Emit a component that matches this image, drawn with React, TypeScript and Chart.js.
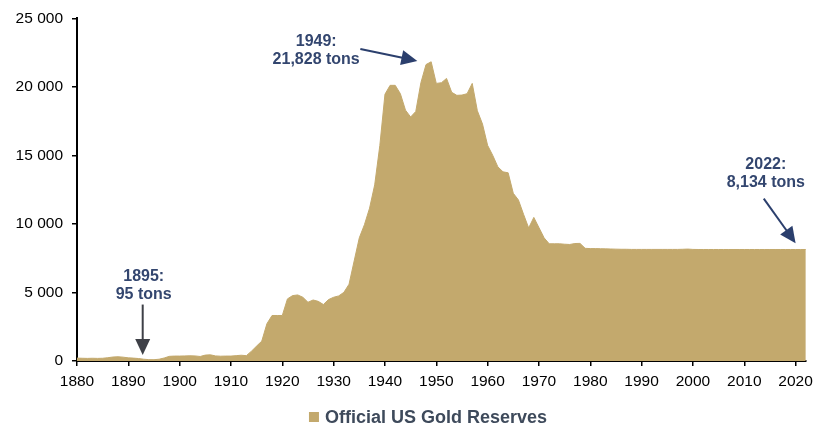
import React, { useEffect, useRef } from 'react';
import { Chart, registerables } from 'chart.js';

Chart.register(...registerables);

// Years 1880 .. 2022
const years: number[] = [
  1880, 1881, 1882, 1883, 1884, 1885, 1886, 1887, 1888, 1889,
  1890, 1891, 1892, 1893, 1894, 1895, 1896, 1897, 1898, 1899,
  1900, 1901, 1902, 1903, 1904, 1905, 1906, 1907, 1908, 1909,
  1910, 1911, 1912, 1913, 1914, 1915, 1916, 1917, 1918, 1919,
  1920, 1921, 1922, 1923, 1924, 1925, 1926, 1927, 1928, 1929,
  1930, 1931, 1932, 1933, 1934, 1935, 1936, 1937, 1938, 1939,
  1940, 1941, 1942, 1943, 1944, 1945, 1946, 1947, 1948, 1949,
  1950, 1951, 1952, 1953, 1954, 1955, 1956, 1957, 1958, 1959,
  1960, 1961, 1962, 1963, 1964, 1965, 1966, 1967, 1968, 1969,
  1970, 1971, 1972, 1973, 1974, 1975, 1976, 1977, 1978, 1979,
  1980, 1981, 1982, 1983, 1984, 1985, 1986, 1987, 1988, 1989,
  1990, 1991, 1992, 1993, 1994, 1995, 1996, 1997, 1998, 1999,
  2000, 2001, 2002, 2003, 2004, 2005, 2006, 2007, 2008, 2009,
  2010, 2011, 2012, 2013, 2014, 2015, 2016, 2017, 2018, 2019,
  2020, 2021, 2022,
];

// Official US gold reserves, tons
const reserves: number[] = [
  210, 200, 190, 200, 190, 200, 240, 290, 310, 280,
  230, 210, 180, 130, 100, 95, 130, 220, 340, 360,
  360, 370, 380, 370, 330, 430, 450, 370, 350, 360,
  360, 390, 420, 390, 720, 1090, 1450, 2720, 3320, 3320,
  3320, 4530, 4770, 4820, 4650, 4285, 4450, 4350, 4120, 4480,
  4650, 4750, 5010, 5600, 7300, 8985, 9945, 11150, 12850, 15725,
  19460, 20110, 20110, 19500, 18300, 17800, 18200, 20300, 21625, 21828,
  20250, 20300, 20615, 19600, 19380, 19400, 19500, 20250, 18255, 17290,
  15730, 15000, 14160, 13800, 13730, 12235, 11750, 10700, 9705, 10475,
  9730, 8985, 8550, 8550, 8550, 8520, 8500, 8570, 8580, 8220,
  8200, 8200, 8190, 8180, 8170, 8160, 8150, 8150, 8140, 8140,
  8140, 8140, 8140, 8140, 8140, 8140, 8140, 8140, 8150, 8165,
  8140, 8135, 8135, 8135, 8135, 8135, 8135, 8135, 8135, 8135,
  8135, 8134, 8134, 8134, 8134, 8134, 8134, 8134, 8134, 8134,
  8134, 8134, 8134,
];

const seriesLabel = 'Official US Gold Reserves';
const yTicks: number[] = [0, 5000, 10000, 15000, 20000, 25000];
const xMin = 1880;
const xMax = 2022;

// Annotations: text anchor and arrow in data units (year, tons)
const annoLabels: string[][] = [['1949:', '21,828 tons'], ['1895:', '95 tons'], ['2022:', '8,134 tons']];
const annoTextX: number[] = [1926.6, 1893.0, 2014.2];
const annoTextY: number[] = [23265, 6140, 14306];
const annoFromX: number[] = [1935.2, 1892.8, 2013.8];
const annoFromY: number[] = [22760, 4118, 11849];
const annoToX: number[] = [1946.3, 1892.8, 2020.0];
const annoToY: number[] = [21890, 433, 8598];
const annoArrowColor: string[] = ['#2B3F6D', '#3E4047', '#2B3F6D'];

const FILL = '#C3A96D';
const NAVY = '#33466F';
const FONT = '"Liberation Sans", Arial, Helvetica, sans-serif';

function fmtSpace(v: number): string {
  return Math.round(v).toString().replace(/\B(?=(\d{3})+(?!\d))/g, ' ');
}

function drawArrow(ctx: CanvasRenderingContext2D, x1: number, y1: number, x2: number, y2: number, color: string) {
  const head = 16;
  const half = 7.5;
  const ang = Math.atan2(y2 - y1, x2 - x1);
  const bx = x2 - head * Math.cos(ang);
  const by = y2 - head * Math.sin(ang);
  ctx.save();
  ctx.strokeStyle = color;
  ctx.fillStyle = color;
  ctx.lineWidth = 2;
  ctx.beginPath();
  ctx.moveTo(x1, y1);
  ctx.lineTo(bx + Math.cos(ang) * 2, by + Math.sin(ang) * 2);
  ctx.stroke();
  ctx.beginPath();
  ctx.moveTo(x2, y2);
  ctx.lineTo(bx + half * Math.sin(ang), by - half * Math.cos(ang));
  ctx.lineTo(bx - half * Math.sin(ang), by + half * Math.cos(ang));
  ctx.closePath();
  ctx.fill();
  ctx.restore();
}

const annotationPlugin = {
  id: 'goldAnnotations',
  afterDraw(chart: any) {
    const ctx: CanvasRenderingContext2D = chart.ctx;
    const xs = chart.scales.x;
    const ys = chart.scales.y;
    ctx.save();
    for (let i = 0; i < annoLabels.length; i++) {
      const tx = xs.getPixelForValue(annoTextX[i]);
      const ty = ys.getPixelForValue(annoTextY[i]);
      ctx.font = `bold 16px ${FONT}`;
      ctx.fillStyle = NAVY;
      ctx.textAlign = 'center';
      ctx.textBaseline = 'middle';
      annoLabels[i].forEach((line, j) => ctx.fillText(line, tx, ty + j * 18));
      drawArrow(
        ctx,
        xs.getPixelForValue(annoFromX[i]),
        ys.getPixelForValue(annoFromY[i]),
        xs.getPixelForValue(annoToX[i]),
        ys.getPixelForValue(annoToY[i]),
        annoArrowColor[i]
      );
    }
    // custom legend
    const ds = chart.data.datasets[0];
    ctx.font = `bold 18px ${FONT}`;
    const tw = ctx.measureText(ds.label).width;
    const box = 10;
    const gap = 6;
    const total = box + gap + tw;
    const cx = 428;
    const cy = 417;
    const left = cx - total / 2;
    ctx.fillStyle = ds.backgroundColor;
    ctx.fillRect(left, cy - box / 2, box, box);
    ctx.fillStyle = '#3E4A5B';
    ctx.textAlign = 'left';
    ctx.textBaseline = 'middle';
    ctx.fillText(ds.label, left + box + gap, cy + 1);
    ctx.restore();
  },
};

export default function App() {
  const ref = useRef<HTMLCanvasElement>(null);
  useEffect(() => {
    if (!ref.current) return;
    const chart = new Chart(ref.current, {
      type: 'line',
      data: {
        datasets: [
          {
            label: seriesLabel,
            data: years.map((y, i) => ({ x: y, y: reserves[i] })),
            fill: 'origin',
            backgroundColor: FILL,
            borderColor: FILL,
            borderWidth: 1,
            pointRadius: 0,
            tension: 0,
          },
        ],
      },
      options: {
        animation: false,
        responsive: false,
        layout: { padding: { top: 15, right: 12, bottom: 39, left: 0 } },
        plugins: {
          legend: { display: false },
          tooltip: { enabled: false },
        },
        scales: {
          x: {
            type: 'linear',
            min: xMin,
            max: xMax,
            afterFit: (s: any) => { s.height = 30; },
            grid: { display: true, drawOnChartArea: false, drawTicks: true, tickLength: 5, color: '#000', lineWidth: 1.5 },
            border: { display: true, color: '#000', width: 2 },
            ticks: {
              stepSize: 10,
              includeBounds: false,
              autoSkip: false,
              maxRotation: 0,
              padding: 6,
              color: '#000',
              font: { family: FONT, size: 15.5 },
              callback: (v: any) => String(v),
            },
          },
          y: {
            min: 0,
            max: 25000,
            afterFit: (s: any) => { s.width = 77; },
            afterBuildTicks: (s: any) => { s.ticks = yTicks.map((v) => ({ value: v })); },
            grid: { display: true, drawOnChartArea: false, drawTicks: true, tickLength: 5, color: '#000', lineWidth: 1.5 },
            border: { display: true, color: '#000', width: 2 },
            ticks: {
              padding: 9,
              color: '#000',
              font: { family: FONT, size: 15.5 },
              callback: (v: any) => fmtSpace(Number(v)),
            },
          },
        },
      },
      plugins: [annotationPlugin],
    } as any);
    return () => chart.destroy();
  }, []);
  return (
    <div style={{ position: 'absolute', left: 0, top: 0, width: 819, height: 430, background: '#fff' }}>
      <canvas ref={ref} width={819} height={430} style={{ display: 'block', width: 819, height: 430 }} />
    </div>
  );
}
